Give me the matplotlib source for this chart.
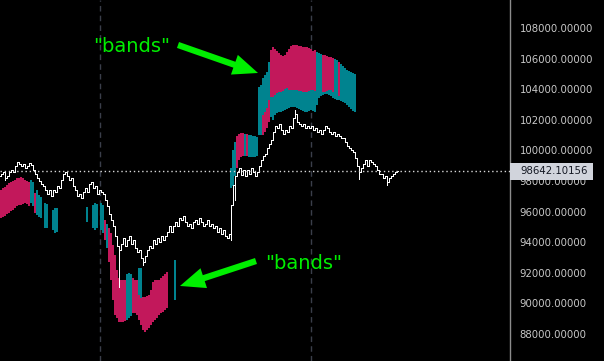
import matplotlib
matplotlib.use('Agg')
import matplotlib.pyplot as plt
import matplotlib.transforms as mtransforms
from matplotlib.collections import LineCollection
from matplotlib.patches import Rectangle

# candle closes, one per bar (bars are 2 px apart in the reference)
closes = [
    98460, 98590, 98200, 98330, 98590, 98720, 98590, 98980, 99240, 99110,
    98980, 99110, 98850, 98980, 99180, 99050, 98720, 98460, 98200, 98000,
    97800, 97670, 97410, 97150, 97410, 97020, 97410, 97280, 97670, 97540,
    98070, 98460, 98590, 98330, 98070, 98200, 97670, 97410, 97020, 97150,
    96890, 97280, 97540, 97280, 97800, 97930, 97540, 97670, 97150, 97410,
    97280, 97150, 96760, 96370, 95840, 95450, 95060, 94400, 93750, 93490,
    93880, 94270, 93750, 94140, 94400, 93880, 94140, 93620, 93360, 93490,
    92970, 92710, 93100, 93490, 93750, 93620, 94140, 93880, 94270, 94010,
    94400, 94140, 94400, 94670, 95060, 94670, 95060, 95320, 95060, 95580,
    95450, 95710, 95320, 95060, 95190, 94930, 95320, 95450, 95190, 95580,
    95320, 95060, 95190, 95450, 95060, 95190, 94930, 95060, 94670, 94930,
    94540, 94800, 94400, 94270, 94540, 96430, 97740, 98330, 98590, 98850,
    98390, 98720, 98330, 98720, 98460, 98850, 98590, 98330, 98590, 98980,
    99370, 99630, 99760, 100160, 100420, 100680, 101200, 101600, 101460, 101730,
    101330, 101070, 101330, 101200, 101600, 101460, 102120, 102380, 101860, 101730,
    101600, 101730, 101460, 101600, 101460, 101600, 101330, 101460, 101200, 101330,
    101070, 101330, 101600, 101460, 101200, 101070, 101200, 100940, 101070, 100940,
    100810, 100810, 100550, 100290, 100160, 100030, 99900, 99500, 98980, 98590,
    98850, 99110, 99370, 98980, 99370, 99240, 99110, 98980, 98720, 98460,
    98460, 98200, 98330, 97930, 98200, 98330, 98460, 98590, 98642.10156,
]
first_open = 98330
# long wicks: bar index -> (low, high)
wicks = {2: (98070, None), 59: (91070, None), 71: (92510, None),
         115: (94140, None), 117: (96760, None), 147: (None, 102640),
         179: (98130, None), 193: (97740, None)}

# band segments: first bar, colour per bar (r = pink, t = teal), tops, bottoms
band_starts = [0, 15, 22, 26, 43, 46, 50, 52, 58, 69, 87, 115, 129, 131, 135, 161, 169]
band_colors = [
    'r' * 15, 'ttrttt', 'tt', 'ttt', 't', 'ttt', 'tt', 'rtrrrr',
    'rrrrr' + 'ttt' + 'r' * 18, 'tt', 't', 'tttrrrrtrttttt',
    't' * 49, 'rrrr', 'r' * 23, 'r' * 6, 'r',
]
band_tops = [
    [97410, 97540, 97610, 97740, 97870, 97930, 98000, 98070, 98200, 98200,
     98260, 98200, 98070, 98000, 97930],
    [98070, 97930, 97220, 97410, 97090, 96950],
    [96560, 96500],
    [96100, 96240, 96240],
    [96300],
    [96430, 96560, 96500],
    [96560, 96430],
    [95450, 95190, 94930, 94600, 93820, 93160],
    [92180, 91660, 91530, 91530, 91530, 91920, 91990, 91920, 91660, 91530,
     91530, 91010, 90550, 90420, 90420, 90480, 90550, 90880, 91400, 91530,
     91530, 91530, 91660, 91790, 91920, 92050],
    [92310, 92310],
    [92840],
    [98850, 100030, 100550, 100940, 101070, 101140, 101140, 101070, 101070,
     101010, 101010, 100940, 100940, 100880],
    [104140, 104270, 104730, 104930, 105120, 105780, 106560, 106760, 106630,
     106500, 106370, 106240, 106170, 106240, 106430, 106630, 106820, 106890,
     106890, 106890, 106820, 106820, 106760, 106760, 106760, 106690, 106630,
     106500, 106560, 106430, 106370, 106300, 106240, 106240, 106170, 106100,
     106100, 106040, 105970, 105910, 105780, 105650, 105520, 105390, 105250,
     105190, 105120, 105060, 104990],
    [102310, 102510, 102770, 103290],
    [106560, 106760, 106630, 106500, 106370, 106240, 106170, 106240, 106430,
     106630, 106820, 106890, 106890, 106890, 106820, 106820, 106760, 106760,
     106760, 106690, 106630, 106500, 106560],
    [106240, 106240, 106170, 106100, 106100, 106040],
    [105780],
]
band_bots = [
    [95580, 95650, 95710, 95840, 95910, 96040, 96100, 96240, 96370, 96430,
     96430, 96500, 96560, 96500, 96370],
    [96560, 96370, 95910, 95780, 95650, 95580],
    [94930, 94930],
    [94800, 94600, 94670],
    [95320],
    [94930, 94800, 94930],
    [94800, 94600],
    [94140, 93620, 92710, 91530, 90220, 89240],
    [89050, 88780, 88780, 88780, 88850, 88920, 89050, 89180, 89370, 89370,
     89240, 88920, 88590, 88260, 88130, 88260, 88390, 88590, 88780, 88920,
     89050, 89240, 89370, 89440, 89570, 89700],
    [90550, 90350],
    [90220],
    [97540, 97670, 98330, 98850, 99370, 99570, 99630, 99630, 99630, 99570,
     99570, 99570, 99570, 99630],
    [101010, 101010, 101010, 101200, 101460, 101860, 102180, 101990, 102310,
     102440, 102510, 102510, 102570, 102640, 102710, 102770, 102840, 102840,
     102840, 102770, 102710, 102640, 102570, 102510, 102510, 102570, 102640,
     102570, 102510, 102970, 103420, 103560, 103620, 103690, 103690, 103620,
     103560, 103420, 103360, 103290, 103290, 103230, 103160, 103100, 102970,
     102840, 102710, 102570, 102510],
    [101010, 101200, 101460, 101860],
    [103490, 103490, 103620, 103750, 103820, 103820, 103880, 104010, 104080,
     103950, 103950, 103950, 103950, 103950, 103880, 103880, 103820, 103820,
     103820, 103880, 103950, 103950, 103880],
    [103820, 103820, 103880, 103950, 103950, 103820],
    [103560],
]
palette = {'r': '#c2185b', 't': '#00838f'}

last_price = closes[-1]
price_ticks = list(range(88000, 108001, 2000))
session_breaks = [49.5, 155]

fig = plt.figure(figsize=(6.04, 3.61), dpi=100, facecolor='black')
ax = fig.add_axes([0, 0, 510 / 604, 1])
ax.set_facecolor('black')

# bands
for start, cols, tops, bots in zip(band_starts, band_colors, band_tops, band_bots):
    xs = [start + k for k in range(len(tops))]
    heights = [t - b for t, b in zip(tops, bots)]
    ax.bar(xs, heights, bottom=bots, width=1.0,
           color=[palette[c] for c in cols], linewidth=0, zorder=2)

# OHLC bars
opens = [first_open] + closes[:-1]
segs = []
for i, (o, c) in enumerate(zip(opens, closes)):
    lo, hi = min(o, c), max(o, c)
    if i in wicks:
        wl, wh = wicks[i]
        lo = wl if wl is not None else lo
        hi = wh if wh is not None else hi
    segs.append([(i, lo), (i, hi)])
    segs.append([(i - 0.5, o), (i, o)])
    segs.append([(i, c), (i + 0.5, c)])
ax.add_collection(LineCollection(segs, colors='white', linewidths=0.72,
                                 antialiaseds=False, zorder=3))

for xb in session_breaks:
    ax.axvline(xb, color='#3a3e4a', lw=1, ls=(0, (4, 3)), zorder=1)
ax.axhline(last_price, color='#d8d8d8', lw=1, ls=(0, (1, 2)), zorder=4)

ax.set_xlim(-0.5, 254.5)
ax.set_ylim(86235, 109830)
ax.set_xticks([])
ax.yaxis.tick_right()
ax.set_yticks(price_ticks)
ax.set_yticklabels(['{:.5f}'.format(p) for p in price_ticks])
ax.tick_params(axis='y', length=0, pad=7, labelsize=7.3, labelcolor='#c8c8c8')
for side in ['top', 'left', 'bottom']:
    ax.spines[side].set_visible(False)
ax.spines['right'].set_color('#8c8c8c')
ax.spines['right'].set_linewidth(1)

# 110000 label sits above the top limit and is cut by the edge
ax.annotate('{:.5f}'.format(110000), xy=(1.0, 110000),
            xycoords=('axes fraction', 'data'), xytext=(7, 0),
            textcoords='offset points', ha='left', va='center',
            fontsize=7.3, color='#c8c8c8', annotation_clip=False)

# last price tag
ftrans = mtransforms.blended_transform_factory(fig.transFigure, ax.transData)
fig.patches.append(Rectangle((510 / 604, last_price - 560), 83 / 604, 1120,
                             transform=ftrans, facecolor='#d1d4dc',
                             edgecolor='none', zorder=5))
fig.text(520 / 604, last_price, '{:.5f}'.format(last_price), transform=ftrans,
         ha='left', va='center', fontsize=7.3, color='#131722', zorder=6)

# annotations
green = '#00ee00'
arrow = dict(arrowstyle='simple,head_length=1.2,head_width=1.0,tail_width=0.3',
             color=green, lw=0, shrinkA=0, shrinkB=0, mutation_scale=15)
ax.annotate('', xy=(128.5, 105060), xytext=(88.5, 106890), arrowprops=arrow, zorder=6)
ax.annotate('', xy=(89.5, 91140), xytext=(127.5, 92770), arrowprops=arrow, zorder=6)
ax.text(65.5, 106760, '"bands"', color=green, fontsize=14, ha='center', va='center', zorder=6)
ax.text(151.5, 92640, '"bands"', color=green, fontsize=14, ha='center', va='center', zorder=6)

fig.savefig('out.png', dpi=100, facecolor='black')
